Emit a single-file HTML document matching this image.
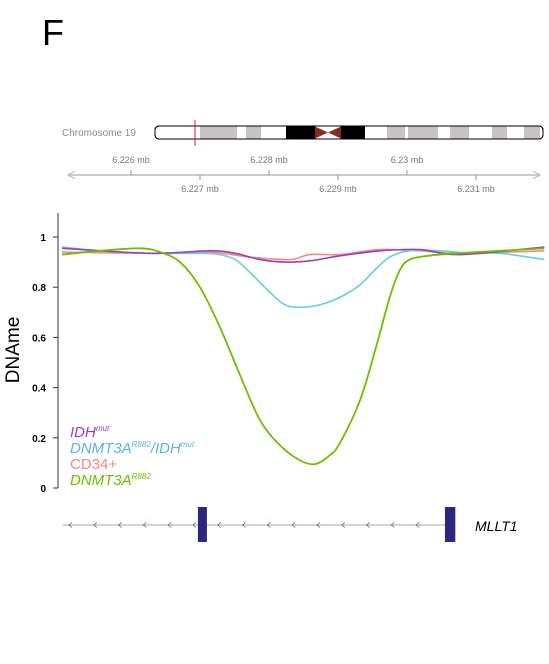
<!DOCTYPE html>
<html><head><meta charset="utf-8"><style>
body{margin:0;background:#fff;width:549px;height:664px;overflow:hidden;font-family:"Liberation Sans",Arial,sans-serif}
svg{position:absolute;left:0;top:0}
</style></head><body>
<svg id="c" width="549" height="664">
<text x="42" y="45" font-size="36">F</text>
<text x="62" y="136" font-size="10" fill="#888">Chromosome 19</text>
<g id="ideo"></g>
<g id="gaxis"></g>
<g id="yaxis"></g>
<text transform="translate(19,350) rotate(-90)" text-anchor="middle" font-size="19">DNAme</text>
<g id="series"></g>
<g font-size="15" font-style="italic">
<text x="70" y="437" fill="#9a3fc0">IDH<tspan font-size="8" dy="-6">mut</tspan></text>
<text x="70" y="453" fill="#5ab4de">DNMT3A<tspan font-size="8" dy="-6">R882</tspan><tspan dy="6">/IDH</tspan><tspan font-size="8" dy="-6">mut</tspan></text>
<text x="70" y="469" fill="#f88880" font-style="normal">CD34+</text>
<text x="70" y="485" fill="#6cc000">DNMT3A<tspan font-size="8" dy="-6">R882</tspan></text>
</g>
<g id="gene"></g>
<text x="475" y="531" font-size="14" font-style="italic">MLLT1</text>
</svg>
<script>
const NS="http://www.w3.org/2000/svg";
// positions in Mb
const posGreen=[6.2250,6.22555,6.22613,6.22642,6.22671,6.2270,6.22729,6.22758,6.22787,6.22816,6.22845,6.22867,6.22888,6.22903,6.22932,6.22954,6.22975,6.22990,6.23004,6.23030,6.23070,6.23135,6.23199];
const valGreen=[0.93,0.945,0.955,0.94,0.90,0.80,0.64,0.45,0.27,0.17,0.11,0.095,0.13,0.18,0.35,0.55,0.76,0.87,0.91,0.925,0.935,0.945,0.955];
const posCyan=[6.2250,6.22555,6.22628,6.2270,6.22729,6.22751,6.22772,6.22801,6.22823,6.22845,6.22874,6.22903,6.22932,6.22954,6.22975,6.23004,6.23048,6.23091,6.23135,6.23199];
const valCyan=[0.96,0.945,0.935,0.935,0.93,0.91,0.86,0.78,0.73,0.72,0.73,0.76,0.81,0.87,0.92,0.945,0.945,0.935,0.935,0.91];
const posPurple=[6.2250,6.22628,6.22714,6.22751,6.22787,6.22823,6.22859,6.22903,6.22961,6.23019,6.23077,6.23199];
const valPurple=[0.955,0.935,0.945,0.935,0.91,0.90,0.905,0.925,0.945,0.95,0.93,0.96];
const posSalmon=[6.2250,6.22628,6.22714,6.22772,6.2283,6.22859,6.22903,6.22961,6.23019,6.23077,6.23199];
const valSalmon=[0.94,0.935,0.94,0.92,0.91,0.93,0.93,0.95,0.945,0.935,0.945];
const yTicks=[0,0.2,0.4,0.6,0.8,1];
const yTickLabels=["0","0.2","0.4","0.6","0.8","1"];
const topTicks=[6.226,6.228,6.230];const topLabels=["6.226 mb","6.228 mb","6.23 mb"];
const botTicks=[6.227,6.229,6.231];const botLabels=["6.227 mb","6.229 mb","6.231 mb"];
const exonStarts=[6.22697,6.23055];
const exonEnds=[6.2271,6.2307];

function X(p){return 131+(p-6.226)*69000;}
function Y(v){return 488-251*v;}
function mk(t,a,parent,name){const e=document.createElementNS(NS,t);for(const k in a)e.setAttribute(k,a[k]);


parent.appendChild(e);return e;}

const ideo=document.getElementById('ideo');
mk('rect',{x:155,y:126,width:388,height:13,rx:4,fill:'#fff',stroke:'#000','stroke-width':1},ideo,'ideogram-body');
[[200,237,'#c8c4c4'],[246,261,'#c8c4c4'],[286,315,'#000'],[341,365,'#000'],[387,405,'#c8c4c4'],[408,438,'#c8c4c4'],[450,469,'#c8c4c4'],[492,507,'#c8c4c4'],[524,540,'#c8c4c4']].forEach(b=>mk('rect',{x:b[0],y:126.5,width:b[1]-b[0],height:12,fill:b[2]},ideo,'ideogram-band'));
mk('path',{d:'M315,126.5L328,132.5L341,126.5L341,138.5L328,132.5L315,138.5Z',fill:'#8b2a22'},ideo,'centromere');
mk('rect',{x:155,y:126,width:388,height:13,rx:4,fill:'none',stroke:'#000','stroke-width':1},ideo,'ideogram-outline');
mk('line',{x1:195,x2:195,y1:120,y2:146,stroke:'#c22','stroke-width':1},ideo,'region-marker');

const ga=document.getElementById('gaxis');
mk('line',{x1:68,x2:540,y1:175,y2:175,stroke:'#bbb','stroke-width':1.5},ga,'genome-axis-line');
mk('path',{d:'M75,171L68,175L75,179',fill:'none',stroke:'#bbb','stroke-width':1.2},ga,'axis-arrow-left');
mk('path',{d:'M533,171L540,175L533,179',fill:'none',stroke:'#bbb','stroke-width':1.2},ga,'axis-arrow-right');
topTicks.forEach((t,i)=>{const x=X(t);mk('line',{x1:x,x2:x,y1:170,y2:175,stroke:'#999'},ga,'top-tick');
const tx=mk('text',{x:x,y:163,'text-anchor':'middle','font-size':9,fill:'#777'},ga,'top-tick-label');tx.textContent=topLabels[i];});
botTicks.forEach((t,i)=>{const x=X(t);mk('line',{x1:x,x2:x,y1:175,y2:180,stroke:'#999'},ga,'bottom-tick');
const tx=mk('text',{x:x,y:192,'text-anchor':'middle','font-size':9,fill:'#777'},ga,'bottom-tick-label');tx.textContent=botLabels[i];});

const ya=document.getElementById('yaxis');
mk('line',{x1:58,x2:58,y1:213,y2:488,stroke:'#333','stroke-width':1},ya,'y-axis-line');
yTicks.forEach((t,i)=>{const y=Y(t);mk('line',{x1:53,x2:58,y1:y,y2:y,stroke:'#333'},ya,'y-tick');
const tx=mk('text',{x:46,y:y+4,'text-anchor':'end','font-size':10,'font-weight':'bold'},ya,'y-tick-label');tx.textContent=yTickLabels[i];});

function path(ps,vs){const p=ps.map((q,i)=>[X(q),Y(vs[i])]);let d='M'+p[0][0]+','+p[0][1];
for(let i=0;i<p.length-1;i++){const p0=p[i-1]||p[i],p1=p[i],p2=p[i+1],p3=p[i+2]||p2;
d+='C'+(p1[0]+(p2[0]-p0[0])/6)+','+(p1[1]+(p2[1]-p0[1])/6)+' '+(p2[0]-(p3[0]-p1[0])/6)+','+(p2[1]-(p3[1]-p1[1])/6)+' '+p2[0]+','+p2[1];}return d;}
const sg=document.getElementById('series');
mk('path',{d:path(posSalmon,valSalmon),fill:'none',stroke:'#f88880','stroke-width':1.6},sg,'line-cd34');
mk('path',{d:path(posCyan,valCyan),fill:'none',stroke:'#66d0dc','stroke-width':1.6},sg,'line-dnmt3a-idh');
mk('path',{d:path(posPurple,valPurple),fill:'none',stroke:'#9a3fc0','stroke-width':1.6},sg,'line-idh');
mk('path',{d:path(posGreen,valGreen),fill:'none',stroke:'#6cc000','stroke-width':1.8},sg,'line-dnmt3a');

const gg=document.getElementById('gene');
mk('line',{x1:63,x2:X(exonStarts[1]),y1:525,y2:525,stroke:'#c4c2e4','stroke-width':1.5},gg,'intron-line');
for(let x=70;x<440;x+=24.8){mk('path',{d:`M${x+2},522.5L${x-1},525L${x+2},527.5`,fill:'none',stroke:'#5a55aa','stroke-width':0.8},gg,'strand-arrow');}
exonStarts.forEach((s,i)=>mk('rect',{x:X(s),y:507,width:X(exonEnds[i])-X(s),height:35,fill:'#2e2580'},gg,'exon'));
</script>
</body></html>
